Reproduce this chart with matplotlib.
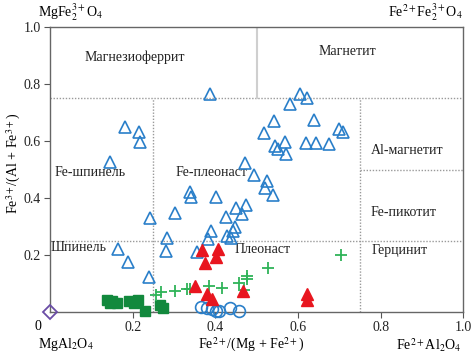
import matplotlib
matplotlib.use("Agg")
import matplotlib.pyplot as plt

plt.rcParams['font.family'] = ['Liberation Serif', 'DejaVu Serif']
plt.rcParams['mathtext.fontset'] = 'stix'

# Fe2+/(Mg+Fe2+) vs Fe3+/(Al+Fe3+)
blue_tri_x = [0.387, 0.182, 0.215, 0.218, 0.145, 0.605, 0.622, 0.581, 0.542, 0.639,
              0.518, 0.700, 0.709, 0.569, 0.545, 0.552, 0.571, 0.620, 0.644, 0.676,
              0.472, 0.494, 0.525, 0.521, 0.540, 0.339, 0.341, 0.402, 0.303, 0.450,
              0.475, 0.465, 0.426, 0.242, 0.283, 0.281, 0.165, 0.189, 0.240, 0.390,
              0.383, 0.448, 0.443, 0.429, 0.438, 0.356]
blue_tri_y = [0.765, 0.649, 0.632, 0.596, 0.526, 0.765, 0.751, 0.730, 0.670, 0.674,
              0.628, 0.642, 0.632, 0.596, 0.582, 0.572, 0.554, 0.593, 0.593, 0.589,
              0.523, 0.481, 0.460, 0.435, 0.411, 0.421, 0.404, 0.404, 0.347, 0.365,
              0.375, 0.344, 0.333, 0.330, 0.260, 0.214, 0.221, 0.175, 0.123, 0.284,
              0.256, 0.298, 0.284, 0.267, 0.260, 0.211]

red_tri_x = [0.368, 0.407, 0.402, 0.375, 0.351, 0.380, 0.392, 0.467, 0.622, 0.622]
red_tri_y = [0.218, 0.221, 0.193, 0.172, 0.091, 0.063, 0.046, 0.074, 0.063, 0.042]

plus_x = [0.257, 0.269, 0.303, 0.332, 0.339, 0.385, 0.416, 0.458, 0.477, 0.477,
          0.470, 0.528, 0.705]
plus_y = [0.060, 0.070, 0.074, 0.081, 0.081, 0.091, 0.084, 0.102, 0.126, 0.116,
          0.077, 0.154, 0.200]

square_x = [0.138, 0.150, 0.162, 0.145, 0.191, 0.203, 0.213, 0.230, 0.266, 0.274]
square_y = [0.042, 0.039, 0.032, 0.032, 0.039, 0.032, 0.042, 0.004, 0.025, 0.014]

circle_x = [0.366, 0.380, 0.392, 0.402, 0.409, 0.436, 0.458]
circle_y = [0.018, 0.014, 0.011, 0.004, 0.003, 0.014, 0.004]

diamond_x = [0.0]
diamond_y = [0.0]

ticks = [0.2, 0.4, 0.6, 0.8, 1.0]
tick_labels = ['0.2', '0.4', '0.6', '0.8', '1.0']

fields = [
    ('Магнезиоферрит', 0.205, 0.895),
    ('Магнетит', 0.72, 0.915),
    ('Fe-шпинель', 0.097, 0.49),
    ('Fe-плеонаст', 0.39, 0.49),
    ('Al-магнетит', 0.865, 0.565),
    ('Fe-пикотит', 0.855, 0.35),
    ('Шпинель', 0.068, 0.225),
    ('Плеонаст', 0.515, 0.22),
    ('Герцинит', 0.845, 0.215),
]

fig = plt.figure(figsize=(4.74, 3.55), dpi=100)
ax = fig.add_axes([0.1055, 0.121, 0.872, 0.803])
ax.set_xlim(0, 1)
ax.set_ylim(0, 1)

# field boundaries
grid = dict(color='#9a9a9a', lw=1.0, ls=(0, (1, 1.2)), zorder=1)
ax.plot([0, 1], [0.75, 0.75], **grid)
ax.plot([0, 1], [0.25, 0.25], **grid)
ax.plot([0.25, 0.25], [0, 0.75], **grid)
ax.plot([0.75, 0.75], [0, 0.75], **grid)
ax.plot([0.75, 1], [0.5, 0.5], **grid)
ax.plot([0.5, 0.5], [0.75, 1], color='#cfcfcf', lw=1.5, zorder=1)

for name, fx, fy in fields:
    ax.text(fx, fy, name, ha='center', va='center', fontsize=10, color='#222222')

blue = '#2a7fc9'
ax.plot(blue_tri_x, blue_tri_y, '^', ms=8.5, mfc='none', mec=blue, mew=1.2, zorder=3)
ax.plot(circle_x, circle_y, 'o', ms=8.5, mfc='none', mec=blue, mew=1.2, zorder=3,
        clip_on=False)
ax.plot(square_x, square_y, 's', ms=7.5, color='#12893d', zorder=3, clip_on=False)
ax.plot(plus_x, plus_y, '+', ms=9, color='#2fb358', mew=1.3, zorder=4)
ax.plot(red_tri_x, red_tri_y, '^', ms=8.5, color='#e8161f', zorder=4)
ax.plot(diamond_x, diamond_y, 'D', ms=7, mfc='none', mec='#6a4ca6', mew=1.3, zorder=5,
        clip_on=False)

ax.set_xticks(ticks)
ax.set_xticklabels(tick_labels)
ax.set_yticks(ticks)
ax.set_yticklabels(tick_labels)
ax.tick_params(labelsize=10, length=4, pad=2.5, color='#555555', labelcolor='#222222')
for s in ax.spines.values():
    s.set_color('#666666')
    s.set_linewidth(1.0)

tf = ax.transAxes
ax.text(-0.03, -0.05, '0', transform=tf, ha='center', va='center', fontsize=10)
ax.text(-0.03, -0.115, r'MgAl$_2$O$_4$', transform=tf, ha='left', va='center', fontsize=10)
ax.text(-0.03, 1.05, r'MgFe$_2^{3+}$O$_4$', transform=tf, ha='left', va='center', fontsize=10)
ax.text(1.0, 1.05, r'Fe$^{2+}$Fe$_2^{3+}$O$_4$', transform=tf, ha='right', va='center', fontsize=10)
ax.text(0.995, -0.115, r'Fe$^{2+}$Al$_2$O$_4$', transform=tf, ha='right', va='center', fontsize=10)
ax.text(0.487, -0.115, r'Fe$^{2+}$/(Mg + Fe$^{2+}$)', transform=tf, ha='center', va='center',
        fontsize=10)
ax.text(-0.088, 0.52, r'Fe$^{3+}$/(Al + Fe$^{3+}$)', transform=tf, ha='center', va='center',
        rotation=90, fontsize=10)

plt.savefig('out.png', dpi=100)
